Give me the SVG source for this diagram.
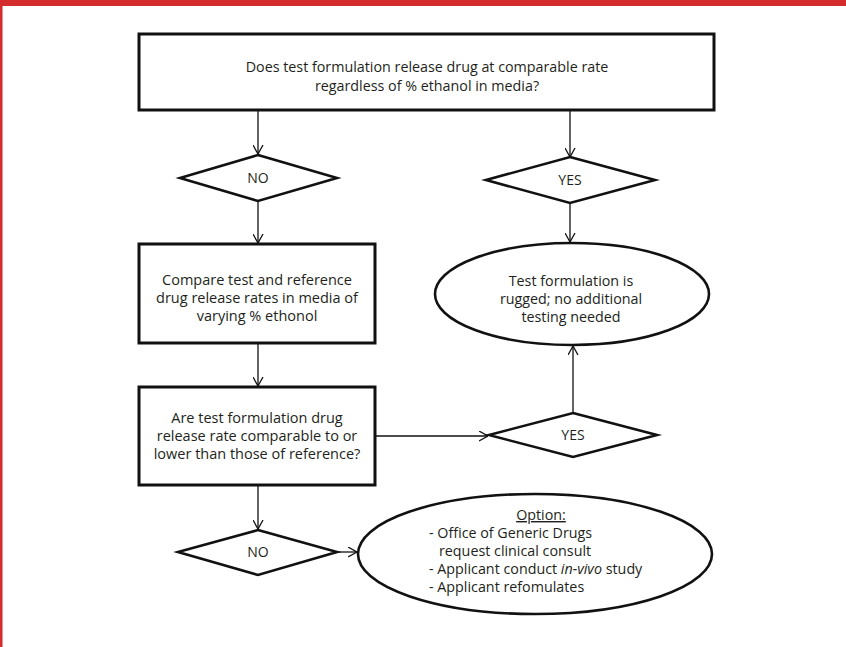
<svg xmlns="http://www.w3.org/2000/svg" width="846" height="647" viewBox="0 0 846 647">
<style>
.box{fill:#fff;stroke:#111;stroke-width:3}
.dia{fill:#fff;stroke:#111;stroke-width:2.6}
.ell{fill:#fff;stroke:#111;stroke-width:2.6}
.t{font-family:"Open Sans","Noto Sans","Liberation Sans",sans-serif;fill:#231f20;text-anchor:middle}
.s13{font-size:14.3px}
.s14{font-size:14.5px}
.sd{font-size:14px}
.so{font-size:14.3px}
.l{text-anchor:start}
.c{fill:none;stroke:#111;stroke-width:1.3}
</style>
<defs>
<marker id="arr" viewBox="0 0 9 11" refX="9" refY="5.5" markerWidth="9" markerHeight="11" markerUnits="userSpaceOnUse" orient="auto">
<path d="M0,0.5 L9,5.5 L0,10.5" fill="none" stroke="#111" stroke-width="1.3"/>
</marker>
</defs>
<rect x="0" y="0" width="846" height="647" fill="#fff"/>
<rect x="0" y="0" width="846" height="6" fill="#d42c2c"/>
<rect x="0" y="0" width="2.5" height="647" fill="#d42c2c"/>

<g id="connectors">
<line class="c" x1="258" y1="111" x2="258" y2="154" marker-end="url(#arr)"/>
<line class="c" x1="570" y1="111" x2="570" y2="157" marker-end="url(#arr)"/>
<line class="c" x1="258" y1="201" x2="258" y2="243" marker-end="url(#arr)"/>
<line class="c" x1="570" y1="203" x2="570" y2="242" marker-end="url(#arr)"/>
<line class="c" x1="258" y1="344" x2="258" y2="386" marker-end="url(#arr)"/>
<line class="c" x1="375" y1="436" x2="488" y2="436" marker-end="url(#arr)"/>
<line class="c" x1="573" y1="413" x2="573" y2="346" marker-end="url(#arr)"/>
<line class="c" x1="258" y1="486" x2="258" y2="529" marker-end="url(#arr)"/>
<line class="c" x1="337" y1="552" x2="357" y2="552" marker-end="url(#arr)"/>
</g>

<g id="q1">
<rect class="box" x="139" y="34" width="575" height="76"/>
<text class="t s13" x="427" y="72">Does test formulation release drug at comparable rate</text>
<text class="t s13" x="427" y="91">regardless of % ethanol in media?</text>
</g>

<g id="no1">
<polygon class="dia" points="258,155 337,178 258,201 180,178"/>
<text class="t sd" x="258" y="183">NO</text>
</g>

<g id="yes1">
<polygon class="dia" points="570,157 655,180 570,203 486,180"/>
<text class="t sd" x="570" y="185">YES</text>
</g>

<g id="compare">
<rect class="box" x="139" y="244" width="236" height="99"/>
<text class="t s14" x="257" y="285">Compare test and reference</text>
<text class="t s14" x="257" y="303">drug release rates in media of</text>
<text class="t s14" x="257" y="321">varying % ethonol</text>
</g>

<g id="rugged">
<ellipse class="ell" cx="572" cy="294" rx="137" ry="51"/>
<text class="t so" x="571" y="286">Test formulation is</text>
<text class="t so" x="571" y="304">rugged; no additional</text>
<text class="t so" x="571" y="322">testing needed</text>
</g>

<g id="q2">
<rect class="box" x="139" y="387" width="236" height="98"/>
<text class="t s14" x="257" y="423">Are test formulation drug</text>
<text class="t s14" x="257" y="441">release rate comparable to or</text>
<text class="t s14" x="257" y="459">lower than those of reference?</text>
</g>

<g id="yes2">
<polygon class="dia" points="573,413 657,435 573,457 489,435"/>
<text class="t sd" x="573" y="440">YES</text>
</g>

<g id="no2">
<polygon class="dia" points="258,530 337,552 258,575 178,552"/>
<text class="t sd" x="258" y="557">NO</text>
</g>

<g id="option">
<ellipse class="ell" cx="535" cy="554" rx="177" ry="60"/>
<text class="t so" x="541" y="520" text-decoration="underline">Option:</text>
<text class="t so l" x="429" y="538">- Office of Generic Drugs</text>
<text class="t so l" x="439" y="556">request clinical consult</text>
<text class="t so l" x="429" y="574">- Applicant conduct <tspan font-style="italic">in-vivo</tspan> study</text>
<text class="t so l" x="429" y="592">- Applicant refomulates</text>
</g>
</svg>
